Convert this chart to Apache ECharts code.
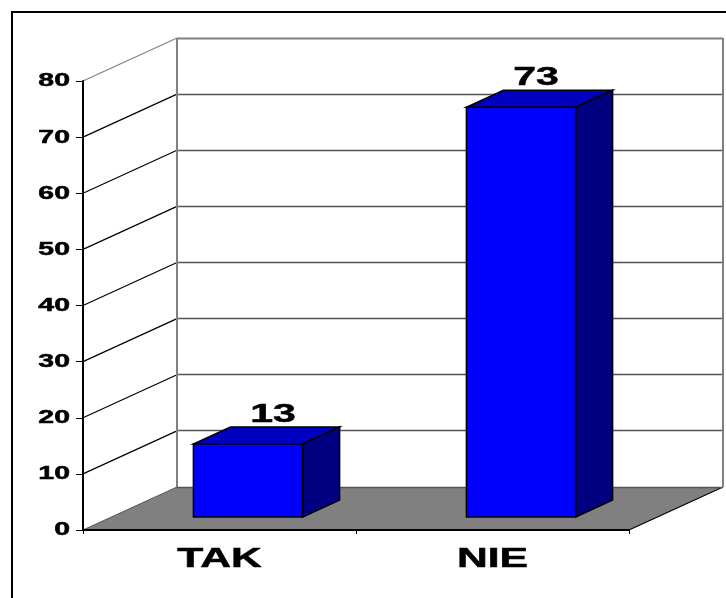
<!DOCTYPE html>
<html><head><meta charset="utf-8">
<style>html,body{margin:0;padding:0;background:#fff;overflow:hidden}#c{width:726px;height:598px}</style>
<script src="https://cdn.jsdelivr.net/npm/echarts@6/dist/echarts.min.js"></script>
</head><body><div id="c"></div>
<script>
const categories = ['TAK', 'NIE'];
const values = [13, 73];
const yTicks = [0, 10, 20, 30, 40, 50, 60, 70, 80];

const DX = 94, DY = -43;       // wall depth in pixels
const BX = 28.5, BY = -13;     // bar's offset from the front plane
const BDX = 37, BDY = -17;     // bar depth
const LABEL_SHIFT = [25, 15];  // value label offset from the bar centre
const FONT = 'bold 18px "Liberation Sans", Arial, sans-serif';
const BIG = 'bold 27px "Liberation Sans", Arial, sans-serif';
const MID = 'bold 26px "Liberation Sans", Arial, sans-serif';
const STRETCH = 1.58;

function crisp(v) { return Math.round(v - 0.5) + 0.5; }
function poly(points, fill, stroke, lw) {
  return { type: 'polygon', shape: { points }, style: { fill: fill, stroke: stroke || null, lineWidth: lw || 0 }, silent: true };
}
function line(a, b, color, lw) {
  return { type: 'line', shape: { x1: a[0], y1: a[1], x2: b[0], y2: b[1] }, style: { stroke: color, lineWidth: lw, fill: null }, silent: true };
}
function stretched(text, x, y, font, align, vAlign) {
  return { type: 'text', x: x, y: y, scaleX: STRETCH, silent: true,
    style: { text: text, font: font, fill: '#000', stroke: '#000', lineWidth: 0.5, align: align, verticalAlign: vAlign } };
}

const chart = echarts.init(document.getElementById('c'));
chart.setOption({
  animation: false,
  backgroundColor: '#fff',
  graphic: [{ type: 'rect', shape: { x: 12, y: 12, width: 730, height: 610 }, style: { fill: 'none', stroke: '#000', lineWidth: 2 }, z: 0 }],
  grid: { left: 83, top: 81, width: 546, height: 449 },
  xAxis: { type: 'category', data: categories, z: 5,
    axisLine: { lineStyle: { color: '#000', width: 2 } },
    axisTick: { show: true, length: 4, alignWithLabel: false, lineStyle: { color: '#000', width: 1 } },
    axisLabel: { show: false }, splitLine: { show: false } },
  yAxis: { type: 'value', min: 0, max: 80, interval: 10, z: 5,
    axisLine: { show: true, lineStyle: { color: '#000', width: 2 } },
    axisTick: { show: true, length: 7, lineStyle: { color: '#000', width: 1 } },
    axisLabel: { show: false }, splitLine: { show: false } },
  series: [
    { // walls, floor and gridlines
      type: 'custom', coordinateSystem: 'cartesian2d', z: 1, silent: true,
      data: [0], clip: false,
      renderItem: function (params, api) {
        const o = api.coord([0, 0]), size = api.size([1, 0])[0];
        const x0 = o[0] - size / 2, x1 = x0 + size * categories.length, y0 = o[1];
        const top = api.coord([0, yTicks[yTicks.length - 1]])[1];
        const kids = [
          poly([[x0, y0], [x0 + DX, y0 + DY], [x1 + DX, y0 + DY], [x1, y0]], '#808080')
        ];
        yTicks.forEach(function (t) {
          const y = api.coord([0, t])[1];
          if (t > 0) {
            const isTop = t === yTicks[yTicks.length - 1];
            kids.push(line([x0, y], [x0 + DX, y + DY], isTop ? '#808080' : '#000', 1.2));
            const by = crisp(y + DY);
            kids.push(line([x0 + DX, by], [x1 + DX, by], isTop ? '#808080' : '#555', isTop ? 2 : 1.3));
          }
        });
        kids.push(line([x0, y0], [x0 + DX, y0 + DY], '#555', 1));
        kids.push(line([x1, y0], [x1 + DX, y0 + DY], '#000', 1.2));
        kids.push(line([x0 + DX, crisp(y0 + DY)], [x1 + DX, crisp(y0 + DY)], '#555', 1.3));
        kids.push(line([x0 + DX, top + DY], [x0 + DX, y0 + DY], '#808080', 2));
        kids.push(line([x1 + DX, top + DY], [x1 + DX, y0 + DY], '#808080', 2));
        return { type: 'group', children: kids };
      }
    },
    { // 3D bars with value labels
      type: 'custom', coordinateSystem: 'cartesian2d', z: 2, silent: true,
      encode: { x: 0, y: 1 }, clip: false,
      data: categories.map(function (c, i) { return [c, values[i]]; }),
      renderItem: function (params, api) {
        const t = api.coord([api.value(0), api.value(1)]);
        const b = api.coord([api.value(0), 0]);
        const w = api.size([1, 0])[0] * 0.4;
        const l = t[0] - w / 2 + BX, r = l + w;
        const ty = t[1] + BY, by = b[1] + BY;
        const S = '#000';
        return { type: 'group', children: [
          poly([[l, ty], [r, ty], [r + BDX, ty + BDY], [l + BDX, ty + BDY]], '#0000c0', S, 1.5),
          poly([[r, ty], [r + BDX, ty + BDY], [r + BDX, by + BDY], [r, by]], '#000080', S, 1.5),
          poly([[l, ty], [r, ty], [r, by], [l, by]], '#0000ff', S, 1.5),
          stretched(String(api.value(1)), (l + r) / 2 + LABEL_SHIFT[params.dataIndex], ty + BDY + 1, MID, 'center', 'bottom')
        ] };
      }
    },
    { // value-axis tick labels
      type: 'custom', coordinateSystem: 'cartesian2d', z: 3, silent: true, clip: false,
      data: yTicks.map(function (t) { return [categories[0], t]; }),
      encode: { x: 0, y: 1 },
      renderItem: function (params, api) {
        const y = api.coord([0, api.value(1)])[1];
        const x = api.coord([0, 0])[0] - api.size([1, 0])[0] / 2;
        return stretched(String(api.value(1)), x - 13, y + 0.5, FONT, 'right', 'middle');
      }
    },
    { // category labels
      type: 'custom', coordinateSystem: 'cartesian2d', z: 3, silent: true, clip: false,
      data: categories.map(function (c) { return [c, 0]; }),
      encode: { x: 0, y: 1 },
      renderItem: function (params, api) {
        const p = api.coord([api.value(0), 0]);
        return stretched(categories[params.dataIndex], p[0], p[1] + 16, BIG, 'center', 'top');
      }
    }
  ]
});
</script></body></html>
